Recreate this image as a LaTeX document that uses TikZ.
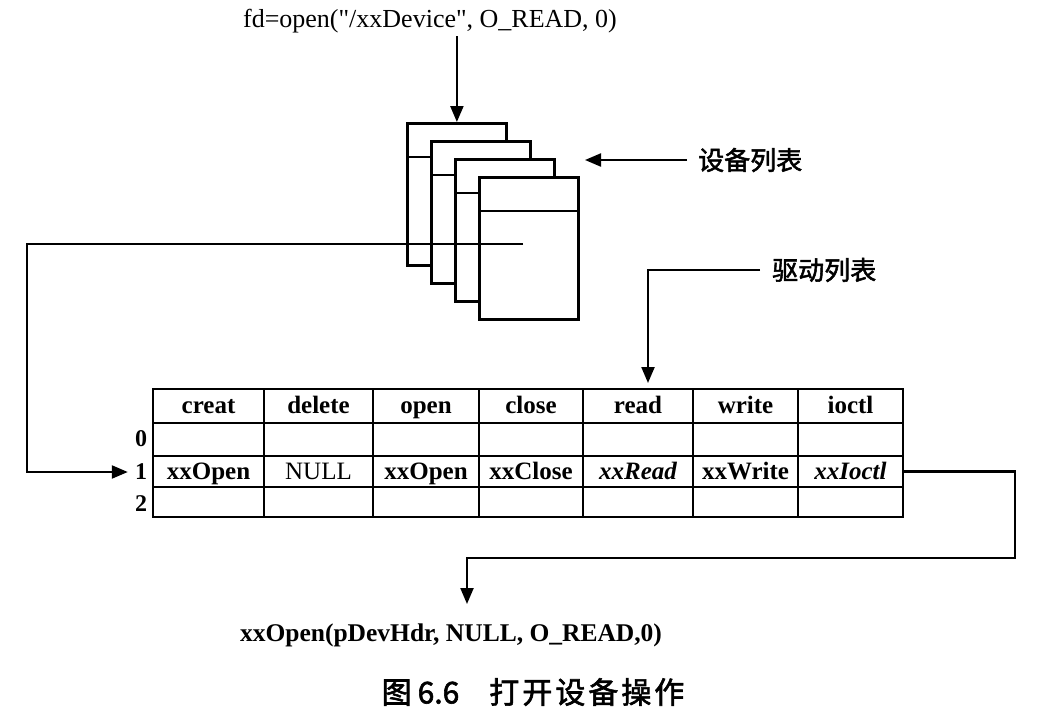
\documentclass[tikz,border=0pt]{standalone}
\usepackage{fontspec}
\setmainfont{Liberation Serif}
\newfontfamily\cjk[FakeBold=2]{Noto Sans CJK SC}
\usetikzlibrary{arrows.meta}
\tikzset{
  card/.style={draw, line width=2.8pt, fill=white, minimum width=99pt, minimum height=142pt, inner sep=0pt, anchor=north west},
  cell/.style={draw, line width=2.6pt, inner sep=0pt, text height=19pt, text depth=4pt, font=\fontsize{25}{28}\selectfont\bfseries},
  conn/.style={line width=2.2pt, -{Triangle[length=16pt,width=13pt]}},
  rowlbl/.style={font=\fontsize{24}{26}\selectfont\bfseries, inner sep=0pt},
  txt/.style={font=\fontsize{26}{29}\selectfont},
  cjklbl/.style={font=\fontsize{26}{30}\selectfont\cjk, inner sep=0pt, anchor=west},
}
\begin{document}
\begin{tikzpicture}[x=1pt,y=-1pt]
\useasboundingbox (0,0) rectangle (1044,720);
% call text
\node[txt] (call) at (430,21) {fd=open(\textquotedbl/xxDevice\textquotedbl, O\_READ, 0)};
% device list cards
\foreach \i in {1,...,4}{
  \node[card] (c\i) at ({406+24*(\i-1)},{122+18*(\i-1)}) {};
  \draw[line width=2.4pt] ([yshift=-35pt]c\i.north west) -- ([yshift=-35pt]c\i.north east);
}
\draw[conn] (call.south -| c1.north) -- (c1.north);
% device list label
\node[cjklbl] (dev) at (698,160) {设备列表};
\coordinate (devtip) at (585,160);
\draw[conn] ([xshift=-11pt]dev.west) -- (devtip);
% driver list label
\node[cjklbl] (drv) at (772,270) {驱动列表};
\coordinate (drvtip) at (648,383);
\draw[conn] ([xshift=-12pt]drv.west) -| (drvtip);
% table
\foreach \l/\r/\h/\v [count=\c] in {153/264/creat/xxOpen, 264/373/delete/{\mdseries NULL}, 373/479/open/xxOpen, 479/583/close/xxClose, 583/693/read/{\itshape xxRead}, 693/798/write/xxWrite, 798/903/ioctl/{\itshape xxIoctl}}{
  \node[cell, minimum width={(\r-\l)*1pt}, minimum height=34pt] (h\c) at ({(\l+\r)/2},406) {\h};
  \node[cell, minimum width={(\r-\l)*1pt}, minimum height=33pt] (a\c) at ({(\l+\r)/2},439.5) {};
  \node[cell, minimum width={(\r-\l)*1pt}, minimum height=31pt] (b\c) at ({(\l+\r)/2},471.5) {\v};
  \node[cell, minimum width={(\r-\l)*1pt}, minimum height=30pt] (d\c) at ({(\l+\r)/2},502) {};
}
\node[rowlbl] (r0) at (141,439) {0};
\node[rowlbl] (r1) at (141,472) {1};
\node[rowlbl] (r2) at (141,504) {2};
% pointer from device list to driver table row 1
\coordinate (devptr) at (523,244);
\coordinate (corner1) at (27,244);
\draw[conn] (devptr) -- (corner1) |- ([xshift=-7pt]r1.west);
% from xxIoctl cell to call result
\node[font=\fontsize{25.5}{28}\selectfont\bfseries] (res) at (451,635) {xxOpen(pDevHdr, NULL, O\_READ,0)};
\coordinate (rc) at (1015,471.5);
\coordinate (rtip) at (467,604);
\draw[conn] (b7.east) -- (rc) |- (467,558) -- (rtip);
% caption
\node[font=\fontsize{30}{34}\selectfont\cjk] (cap) at (533,692) {图\hspace{6pt}6.6\hspace{30pt}打\hspace{3pt}开\hspace{3pt}设\hspace{3pt}备\hspace{3pt}操\hspace{3pt}作};
\end{tikzpicture}
\end{document}
